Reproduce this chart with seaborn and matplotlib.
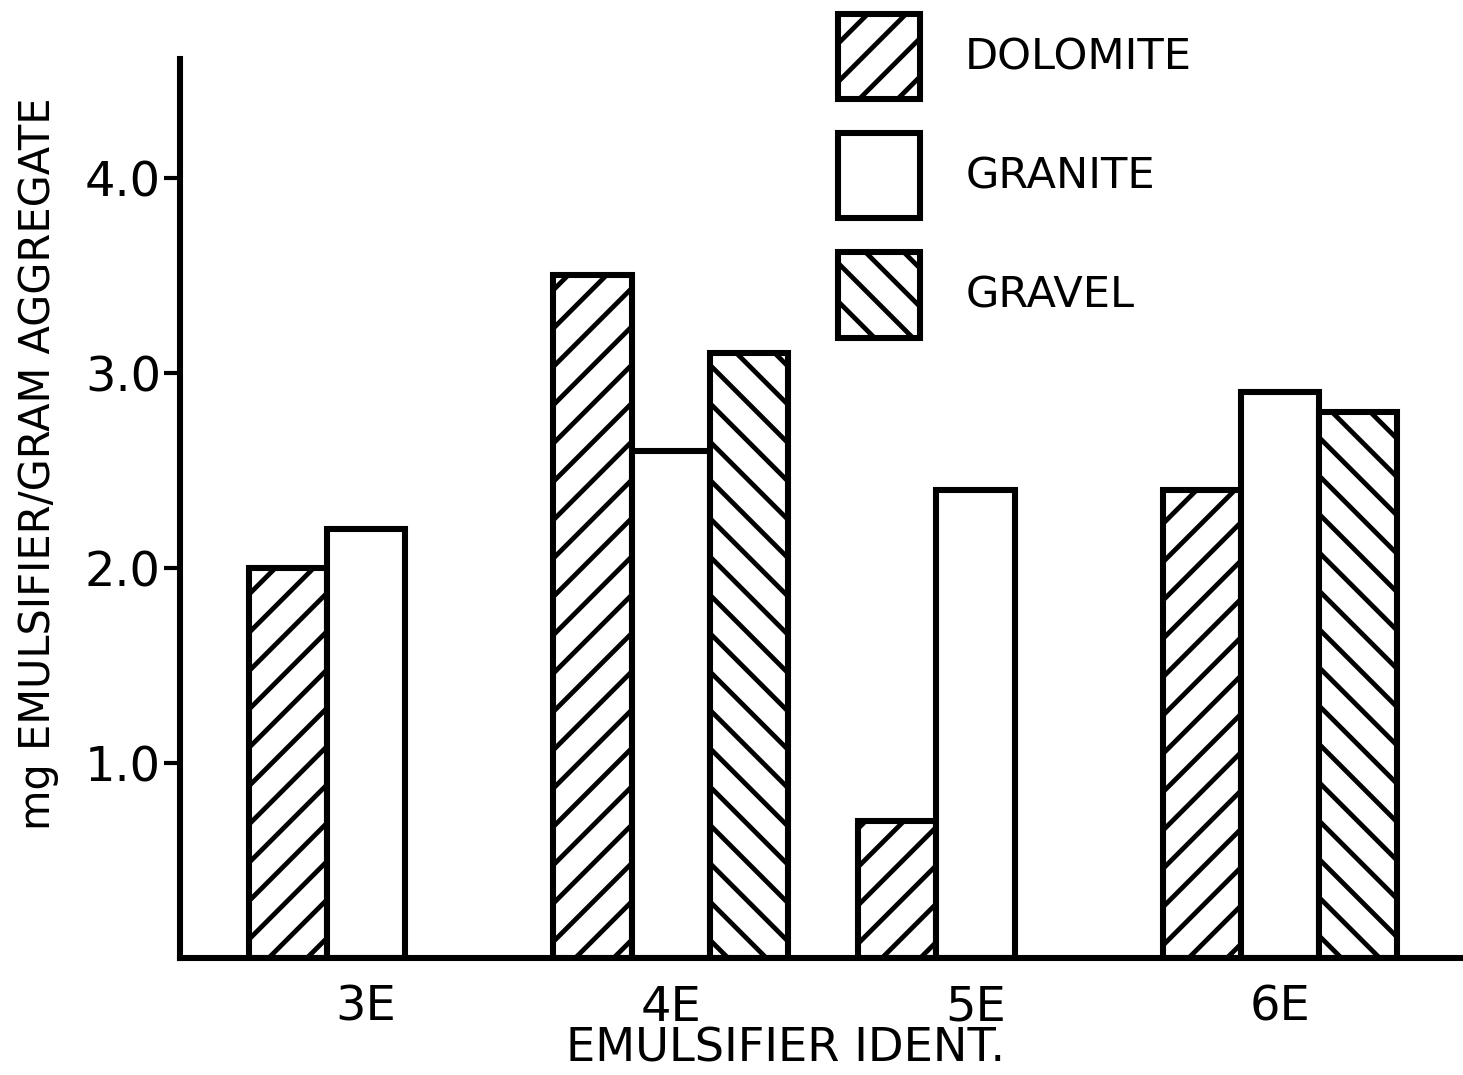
import seaborn as sns
import matplotlib.pyplot as plt
from matplotlib.patches import Patch
import pandas as pd

sns.set_theme(style="white")
plt.rcParams['font.family'] = ['DejaVu Sans']
plt.rcParams['hatch.linewidth'] = 1.5

# data (mg emulsifier per gram aggregate)
emulsifiers = ['3E', '4E', '5E', '6E']
aggregates = ['DOLOMITE', 'GRANITE', 'GRAVEL']
dolomite = [2.0, 3.5, 0.7, 2.4]
granite = [2.2, 2.6, 2.4, 2.9]
gravel = [None, 3.1, None, 2.8]   # no gravel bar for 3E and 5E
y_ticks = [1.0, 2.0, 3.0, 4.0]
y_tick_labels = ['1.0', '2.0', '3.0', '4.0']

rows = []
for name, vals in zip(aggregates, [dolomite, granite, gravel]):
    for e, v in zip(emulsifiers, vals):
        if v is not None:
            rows.append({'emulsifier': e, 'aggregate': name, 'value': v})
df = pd.DataFrame(rows)

hatches = {'DOLOMITE': '//', 'GRANITE': '', 'GRAVEL': '\\\\'}

# high dpi so the hatch lines come out widely spaced like the drawing
dpi = 230
fig = plt.figure(figsize=(1463 / dpi, 1075 / dpi), dpi=dpi)
ax = fig.add_axes([180 / 1463, 117 / 1075, 1283 / 1463, 899 / 1075])

sns.barplot(data=df, x='emulsifier', y='value', hue='aggregate',
            order=emulsifiers, hue_order=aggregates,
            palette={a: 'white' for a in aggregates}, saturation=1,
            edgecolor='black', linewidth=1.9, width=0.77,
            errorbar=None, legend=False, ax=ax)

for cont, name in zip(ax.containers, aggregates):
    for bar in cont:
        bar.set_hatch(hatches[name])

ax.set_xlim(-0.61, 3.6)
ax.set_ylim(0, 4.61)
ax.set_yticks(y_ticks)
ax.set_yticklabels(y_tick_labels)
ax.tick_params(axis='y', left=True, length=5, width=1.3, pad=1,
               labelsize=15, color='black', labelcolor='black')
ax.tick_params(axis='x', bottom=False, pad=2, labelsize=15, labelcolor='black')

for s in ['top', 'right']:
    ax.spines[s].set_visible(False)
for s in ['left', 'bottom']:
    ax.spines[s].set_color('black')
    ax.spines[s].set_linewidth(1.9)

ax.set_xlabel('EMULSIFIER IDENT.', fontsize=14.5, color='black')
ax.xaxis.set_label_coords(0.472, -0.076)
ax.set_ylabel('mg EMULSIFIER/GRAM AGGREGATE', fontsize=13, color='black')
ax.yaxis.set_label_coords(-0.094, 0.55)

handles = [Patch(facecolor='white', edgecolor='black', linewidth=1.9,
                 hatch=hatches[a], label=a) for a in aggregates]
fig.legend(handles=handles, loc='upper left',
           bbox_to_anchor=(838 / 1463, 1 - 14 / 1075),
           frameon=False, fontsize=13.5, handlelength=1.9, handleheight=2.66,
           labelspacing=0.79, handletextpad=1.05, borderpad=0,
           borderaxespad=0, labelcolor='black')

fig.savefig('out.png', dpi=dpi)
